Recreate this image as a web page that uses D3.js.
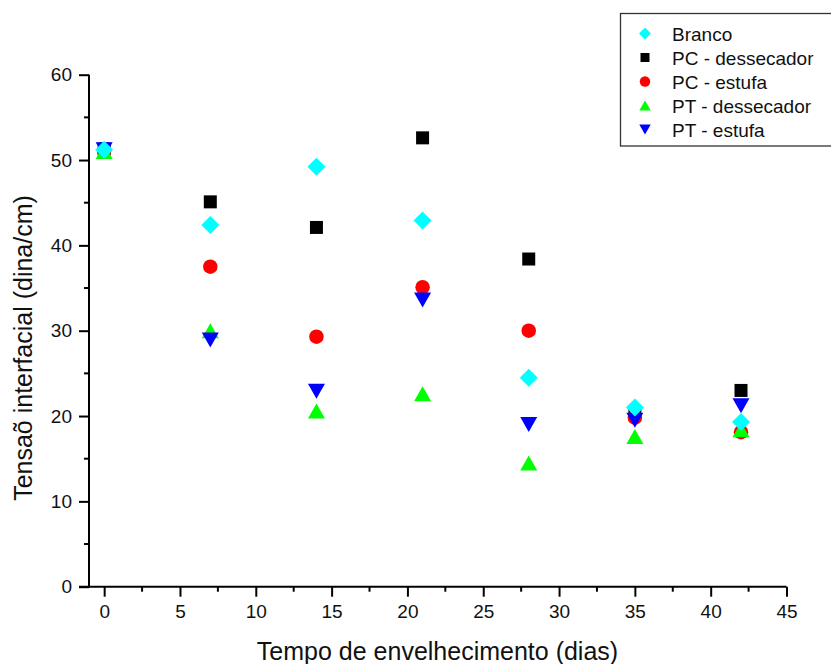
<!DOCTYPE html>
<html>
<head>
<meta charset="utf-8">
<script src="https://cdn.jsdelivr.net/npm/d3@7"></script>
<style>
  html, body { margin: 0; padding: 0; background: #fff; }
  svg { display: block; font-family: "Liberation Sans", Arial, sans-serif; }
</style>
</head>
<body>
<svg id="chart" width="831" height="664"></svg>
<script>
// Aging time (days)
const days = [0, 7, 14, 21, 28, 35, 42];

// Interfacial tension (dina/cm) per sample
const branco        = [51.2, 42.4, 49.2, 42.9, 24.5, 21.0, 19.3];
const pcDessecador  = [51.3, 45.1, 42.1, 52.6, 38.4, 20.5, 23.0];
const pcEstufa      = [51.1, 37.5, 29.3, 35.1, 30.0, 19.8, 18.1];
const ptDessecador  = [51.0, 30.0, 20.6, 22.6, 14.5, 17.6, 18.4];
const ptEstufa      = [51.2, 28.9, 22.9, 33.6, 19.0, 19.5, 21.2];

const xTicks = [0, 5, 10, 15, 20, 25, 30, 35, 40, 45];
const yTicks = [0, 10, 20, 30, 40, 50, 60];

const xTitle = "Tempo de envelhecimento (dias)";
const yTitle = "Tensaõ interfacial (dina/cm)";

// custom symbol shapes, all centred on their bounding box
const diamond = { draw(ctx, s) { const r = Math.sqrt(s) / 2; ctx.moveTo(0, -r); ctx.lineTo(r, 0); ctx.lineTo(0, r); ctx.lineTo(-r, 0); ctx.closePath(); } };
const square  = { draw(ctx, s) { const h = Math.sqrt(s) / 2; ctx.rect(-h, -h, 2 * h, 2 * h); } };
const circle  = { draw(ctx, s) { const r = Math.sqrt(s) / 2; ctx.moveTo(r, 0); ctx.arc(0, 0, r, 0, 2 * Math.PI); } };
const triUp   = { draw(ctx, s) { const w = Math.sqrt(s) / 2, h = w * 0.88; ctx.moveTo(0, -h); ctx.lineTo(w, h); ctx.lineTo(-w, h); ctx.closePath(); } };
const triDown = { draw(ctx, s) { const w = Math.sqrt(s) / 2, h = w * 0.88; ctx.moveTo(0, h); ctx.lineTo(w, -h); ctx.lineTo(-w, -h); ctx.closePath(); } };

// series in legend order; "z" gives drawing order (higher is on top)
const series = [
  { name: "Branco",          values: branco,       color: "#00ffff", type: diamond, size: 18, legSize: 12, z: 4 },
  { name: "PC - dessecador", values: pcDessecador, color: "#000000", type: square,  size: 13, legSize: 9,  z: 0 },
  { name: "PC - estufa",     values: pcEstufa,     color: "#ff0000", type: circle,  size: 14.5, legSize: 10.5, z: 1 },
  { name: "PT - dessecador", values: ptDessecador, color: "#00ff00", type: triUp,   size: 17, legSize: 11.5, z: 2 },
  { name: "PT - estufa",     values: ptEstufa,     color: "#0000ff", type: triDown, size: 17, legSize: 11.5, z: 3 }
];

const svg = d3.select("#chart");
const plotLeft = 89, plotRight = 786.5, plotTop = 74.7, plotBottom = 586.7;

const x = d3.scaleLinear().domain([-1, 45]).range([plotLeft, plotRight]);
const y = d3.scaleLinear().domain([0, 60]).range([plotBottom, plotTop]);

// ---- axes ----
const xMinor = d3.range(2.5, 45, 5);
const yMinor = d3.range(5, 60, 10);

const xAxis = svg.append("g").attr("transform", `translate(0,${plotBottom})`);
xAxis.append("line").attr("x1", plotLeft - 10).attr("x2", x(45)).attr("y1", 0).attr("y2", 0)
  .attr("stroke", "#000").attr("stroke-width", 2);
xAxis.call(g => {
  const ax = d3.axisBottom(x).tickValues(xTicks).tickSize(10).tickPadding(8).tickFormat(d3.format("d"));
  const sub = g.append("g").call(ax);
  sub.select(".domain").remove();
  sub.selectAll(".tick line").attr("stroke", "#000").attr("stroke-width", 2);
  sub.selectAll(".tick text").attr("font-size", 19).attr("fill", "#111")
    .attr("font-family", "Liberation Sans, Arial, sans-serif");
});
xAxis.selectAll(".minor").data(xMinor).join("line").attr("class", "minor")
  .attr("x1", d => x(d)).attr("x2", d => x(d)).attr("y1", 0).attr("y2", 5)
  .attr("stroke", "#000").attr("stroke-width", 2);

const yAxis = svg.append("g").attr("transform", `translate(${plotLeft},0)`);
yAxis.append("line").attr("x1", 0).attr("x2", 0).attr("y1", y(60)).attr("y2", plotBottom + 1)
  .attr("stroke", "#000").attr("stroke-width", 2);
yAxis.call(g => {
  const ax = d3.axisLeft(y).tickValues(yTicks).tickSize(10).tickPadding(7).tickFormat(d3.format("d"));
  const sub = g.append("g").call(ax);
  sub.select(".domain").remove();
  sub.selectAll(".tick line").attr("stroke", "#000").attr("stroke-width", 2);
  sub.selectAll(".tick text").attr("font-size", 19).attr("fill", "#111")
    .attr("font-family", "Liberation Sans, Arial, sans-serif");
});
yAxis.selectAll(".minor").data(yMinor).join("line").attr("class", "minor")
  .attr("x1", -5).attr("x2", 0).attr("y1", d => y(d)).attr("y2", d => y(d))
  .attr("stroke", "#000").attr("stroke-width", 2);

// axis titles
svg.append("text").attr("x", 437.5).attr("y", 659.5).attr("text-anchor", "middle")
  .attr("font-size", 25).attr("fill", "#111").text(xTitle);
svg.append("text").attr("transform", "translate(31.5,348) rotate(-90)").attr("text-anchor", "middle")
  .attr("font-size", 25).attr("fill", "#111").text(yTitle);

// ---- points ----
const drawOrder = series.slice().sort((a, b) => a.z - b.z);
drawOrder.forEach(s => {
  svg.append("g").selectAll("path").data(s.values).join("path")
    .attr("transform", (v, i) => `translate(${x(days[i])},${y(v)})`)
    .attr("d", d3.symbol().type(s.type).size(s.size * s.size))
    .attr("fill", s.color);
});

// ---- legend ----
const leg = svg.append("g");
leg.append("rect").attr("x", 620.5).attr("y", 13.5).attr("width", 230).attr("height", 132.5)
  .attr("fill", "#fff").attr("stroke", "#333").attr("stroke-width", 1.3);
series.forEach((s, i) => {
  const cy = 33.5 + i * 24;
  leg.append("path").attr("transform", `translate(645,${cy})`)
    .attr("d", d3.symbol().type(s.type).size(s.legSize * s.legSize)).attr("fill", s.color);
  leg.append("text").attr("x", 672).attr("y", cy + 7).attr("font-size", 19).attr("fill", "#111").text(s.name);
});
</script>
</body>
</html>
